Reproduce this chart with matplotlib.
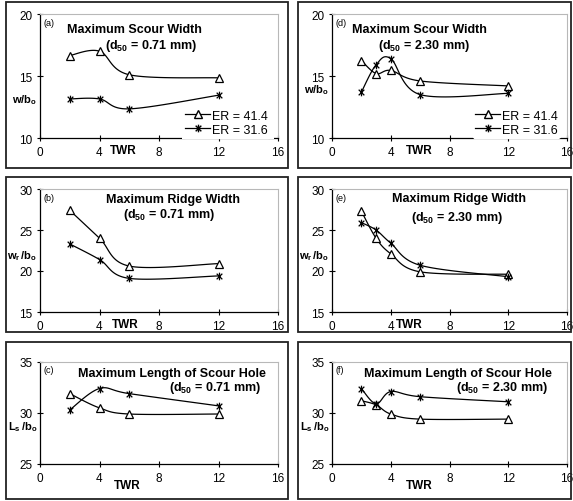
import numpy as np
import matplotlib
matplotlib.use("Agg")
import matplotlib.pyplot as plt
from matplotlib.path import Path
from matplotlib.lines import Line2D
from matplotlib.patches import Rectangle

plt.rcParams['font.family'] = ['Liberation Sans', 'DejaVu Sans']
plt.rcParams['mathtext.fontset'] = 'custom'
plt.rcParams['mathtext.rm'] = 'Liberation Sans'
plt.rcParams['mathtext.bf'] = 'Liberation Sans:bold'
plt.rcParams['mathtext.it'] = 'Liberation Sans:italic'

# data (TWR vs. normalised dimension)
twr_071 = [2, 4, 6, 12]
twr_230 = [2, 3, 4, 6, 12]

scour_w_071_er414 = [16.65, 17.0, 15.1, 14.85]
scour_w_071_er316 = [13.15, 13.15, 12.35, 13.45]
scour_w_230_er414 = [16.25, 15.2, 15.45, 14.6, 14.2]
scour_w_230_er316 = [13.7, 15.9, 16.4, 13.5, 13.6]

ridge_w_071_er414 = [27.4, 24.0, 20.6, 20.9]
ridge_w_071_er316 = [23.3, 21.4, 19.1, 19.4]
ridge_w_230_er414 = [27.3, 24.0, 22.1, 19.9, 19.6]
ridge_w_230_er316 = [25.9, 25.0, 23.4, 20.7, 19.3]

length_071_er414 = [31.9, 30.5, 29.9, 29.9]
length_071_er316 = [30.3, 32.4, 31.9, 30.7]
length_230_er414 = [31.2, 30.8, 29.9, 29.4, 29.4]
length_230_er316 = [32.4, 30.9, 32.1, 31.6, 31.1]

legend_labels = ['ER = 41.4', 'ER = 31.6']

W, H = 573, 502

# asterisk marker like the spreadsheet one ("x" plus vertical bar)
star = Path([(-1, -1), (1, 1), (-1, 1), (1, -1), (0, -1.35), (0, 1.35)],
            [Path.MOVETO, Path.LINETO, Path.MOVETO, Path.LINETO, Path.MOVETO, Path.LINETO])


def smooth(x, y, n=24):
    # smoothed curve through the points (only for drawing the line)
    x = np.asarray(x, float)
    y = np.asarray(y, float)
    px = np.concatenate([[x[0]], x, [x[-1]]])
    py = np.concatenate([[y[0]], y, [y[-1]]])
    xs, ys = [], []
    t = np.linspace(0, 1, n)
    for i in range(1, len(px) - 2):
        p0, p1, p2, p3 = [np.array([px[j], py[j]]) for j in (i - 1, i, i + 1, i + 2)]
        c1 = p1 + (p2 - p0) / 6
        c2 = p2 - (p3 - p1) / 6
        pts = ((1 - t)[:, None] ** 3 * p1 + 3 * ((1 - t) ** 2 * t)[:, None] * c1
               + 3 * ((1 - t) * t ** 2)[:, None] * c2 + (t ** 3)[:, None] * p2)
        xs.extend(pts[:, 0])
        ys.extend(pts[:, 1])
    return xs, ys


def axes_px(x0, x1, ytop, ybot):
    return [x0 / W, 1 - ybot / H, (x1 - x0) / W, (ybot - ytop) / H]


def panel(fig, rect, x, ya, yb, ylim, yticks, tag, title, dline, title_pos, d_pos,
          ylab, ylab_y, twr_x, twr_dy=12, legend=None, gap=False):
    ax = fig.add_axes(rect)
    for yy, mk in [(ya, '^'), (yb, star)]:
        sx, sy = smooth(x, yy)
        ax.plot(sx, sy, color='black', lw=0.9, zorder=3)
        ax.plot(x, yy, ls='none', marker=mk, ms=5.5, mfc='white', mec='black', mew=0.9, zorder=4)
    ax.set_xlim(0, 16)
    ax.set_ylim(*ylim)
    ax.set_xticks([0, 4, 8, 12, 16])
    ax.set_yticks(yticks)
    ax.tick_params(direction='inout', length=5, width=0.8, labelsize=8.5, pad=3)
    for s in ['top', 'right']:
        ax.spines[s].set_color('#b8b8b8')
        ax.spines[s].set_linewidth(0.8)
    for s in ['left', 'bottom']:
        ax.spines[s].set_linewidth(0.9)
    ax.text(0.015, 0.97, tag, transform=ax.transAxes, fontsize=6.5, va='top', ha='left')
    ax.text(title_pos[0], title_pos[1], title, transform=ax.transAxes, fontsize=9,
            fontweight='bold', ha='center', va='center')
    ax.text(d_pos[0], d_pos[1], dline, transform=ax.transAxes, fontsize=9,
            fontweight='bold', ha='center', va='center')
    ax.text(-0.012, ylab_y, ylab, transform=ax.transAxes, fontsize=8,
            ha='right', va='center')
    ax.annotate('TWR', xy=(twr_x, 0), xycoords='axes fraction', xytext=(0, -twr_dy),
                textcoords='offset pixels', fontsize=8.5, fontweight='bold',
                ha='center', va='center')
    if legend is not None:
        handles = [Line2D([], [], color='black', lw=0.9, marker='^', ms=5.5, mfc='white', mec='black'),
                   Line2D([], [], color='black', lw=0.9, marker=star, ms=5.5, mfc='white', mec='black')]
        leg = ax.legend(handles, legend_labels, loc='lower right', bbox_to_anchor=legend,
                        frameon=True, fontsize=9, handlelength=2.0, handletextpad=0.1,
                        borderpad=0.2, labelspacing=0.15, borderaxespad=0)
        leg.get_frame().set_edgecolor('white')
        leg.get_frame().set_facecolor('white')
        leg.get_frame().set_alpha(1)
        leg.set_zorder(10)
    if gap:
        # the legend box hides part of the x axis line in the original
        ax.add_patch(Rectangle((0.597, -0.008), 0.385, 0.03, transform=ax.transAxes,
                               fc='white', ec='none', clip_on=False, zorder=5))
    return ax


fig = plt.figure(figsize=(W / 100, H / 100), dpi=100)

# panel frames
for bx0, bx1 in [(6, 288), (298, 571)]:
    for by0, by1 in [(3, 169), (178, 333), (343, 500)]:
        fig.patches.append(Rectangle((bx0 / W, 1 - by1 / H), (bx1 - bx0) / W, (by1 - by0) / H,
                                     transform=fig.transFigure, fill=False, ec='#222222', lw=1.3))

d071 = r'(d$_{\mathbf{50}}$ = 0.71 mm)'
d230 = r'(d$_{\mathbf{50}}$ = 2.30 mm)'
wlab = r'$\mathbf{w/b}_{\mathbf{o}}$'
wrlab = r'$\mathbf{w}_{\mathbf{r}}\,\mathbf{/b}_{\mathbf{o}}$'
llab = r'$\mathbf{L}_{\mathbf{s}}\,\mathbf{/b}_{\mathbf{o}}$'

panel(fig, axes_px(40, 278, 15, 139), twr_071, scour_w_071_er414, scour_w_071_er316,
      (10, 20), [10, 15, 20], '(a)', 'Maximum Scour Width', d071, (0.395, 0.88), (0.466, 0.75),
      wlab, 0.315, 0.35, legend=(0.966, 0.0), gap=True)
panel(fig, axes_px(332, 567, 15, 139), twr_230, scour_w_230_er414, scour_w_230_er316,
      (10, 20), [10, 15, 20], '(d)', 'Maximum Scour Width', d230, (0.37, 0.88), (0.39, 0.75),
      wlab, 0.395, 0.37, legend=(0.97, 0.0))
panel(fig, axes_px(40, 278, 190, 313), twr_071, ridge_w_071_er414, ridge_w_071_er316,
      (15, 30), [15, 20, 25, 30], '(b)', 'Maximum Ridge Width', d071, (0.56, 0.92), (0.54, 0.80),
      wrlab, 0.46, 0.36)
panel(fig, axes_px(332, 567, 190, 313), twr_230, ridge_w_230_er414, ridge_w_230_er316,
      (15, 30), [15, 20, 25, 30], '(e)', 'Maximum Ridge Width', d230, (0.54, 0.93), (0.53, 0.77),
      wrlab, 0.46, 0.33)
panel(fig, axes_px(40, 278, 363, 465), twr_071, length_071_er414, length_071_er316,
      (25, 35), [25, 30, 35], '(c)', 'Maximum Length of Scour Hole', d071, (0.555, 0.895), (0.737, 0.75),
      llab, 0.37, 0.365, twr_dy=21)
panel(fig, axes_px(332, 567, 363, 465), twr_230, length_230_er414, length_230_er316,
      (25, 35), [25, 30, 35], '(f)', 'Maximum Length of Scour Hole', d230, (0.536, 0.895), (0.723, 0.75),
      llab, 0.37, 0.37, twr_dy=21)

fig.savefig('out.png', dpi=100)
